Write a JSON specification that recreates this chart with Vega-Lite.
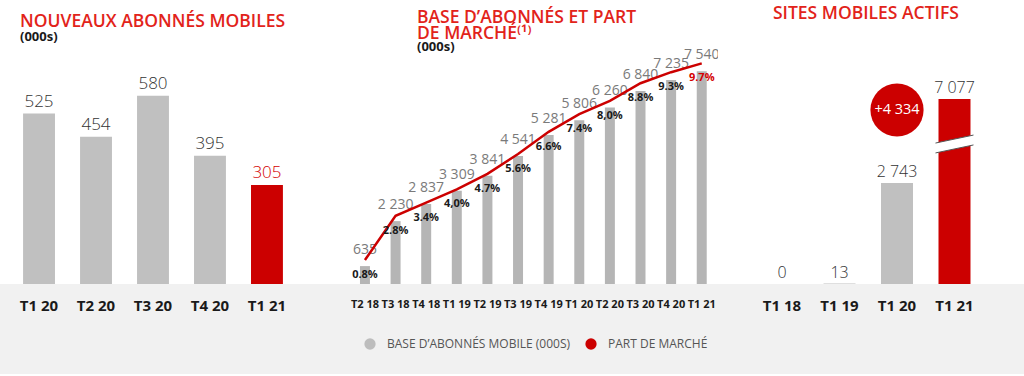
{
  "$schema": "https://vega.github.io/schema/vega-lite/v6.json",
  "background": "#f1f1f1",
  "padding": {"left": 0, "top": 0, "right": 0, "bottom": 24},
  "spacing": 0,
  "bounds": "flush",
  "config": {
    "font": "Open Sans",
    "view": {"fill": "white", "stroke": null},
    "axis": {"domain": false, "ticks": false, "grid": false, "title": null, "labelAngle": 0, "labelFont": "Open Sans", "labelFontWeight": "bold", "labelColor": "#1a1a1a", "labelOverlap": false, "labelBound": false},
    "title": {"anchor": "start", "frame": "group", "font": "Open Sans", "fontWeight": 600, "color": "#e2231a", "fontSize": 17.5, "subtitleFont": "Open Sans", "subtitleFontWeight": "bold", "subtitleColor": "#1a1a1a", "subtitleFontSize": 13, "subtitlePadding": 1}
  },
  "datasets": {
    "left": [
      {"q": "T1 20", "v": 525},
      {"q": "T2 20", "v": 454},
      {"q": "T3 20", "v": 580},
      {"q": "T4 20", "v": 395},
      {"q": "T1 21", "v": 305}
    ],
    "mid": [
      {"q": "T2 18", "base": 635, "base_label": "635", "share": 0.8, "share_label": "0.8%"},
      {"q": "T3 18", "base": 2230, "base_label": "2 230", "share": 2.8, "share_label": "2.8%"},
      {"q": "T4 18", "base": 2837, "base_label": "2 837", "share": 3.4, "share_label": "3.4%"},
      {"q": "T1 19", "base": 3309, "base_label": "3 309", "share": 4.0, "share_label": "4,0%"},
      {"q": "T2 19", "base": 3841, "base_label": "3 841", "share": 4.7, "share_label": "4.7%"},
      {"q": "T3 19", "base": 4541, "base_label": "4 541", "share": 5.6, "share_label": "5.6%"},
      {"q": "T4 19", "base": 5281, "base_label": "5 281", "share": 6.6, "share_label": "6.6%"},
      {"q": "T1 20", "base": 5806, "base_label": "5 806", "share": 7.4, "share_label": "7.4%"},
      {"q": "T2 20", "base": 6260, "base_label": "6 260", "share": 8.0, "share_label": "8,0%"},
      {"q": "T3 20", "base": 6840, "base_label": "6 840", "share": 8.8, "share_label": "8.8%"},
      {"q": "T4 20", "base": 7235, "base_label": "7 235", "share": 9.3, "share_label": "9.3%"},
      {"q": "T1 21", "base": 7540, "base_label": "7 540", "share": 9.7, "share_label": "9.7%"}
    ],
    "right": [
      {"q": "T1 18", "v": 0, "label": "0"},
      {"q": "T1 19", "v": 13, "label": "13"},
      {"q": "T1 20", "v": 2743, "label": "2 743"},
      {"q": "T1 21", "v": 7077, "label": "7 077"}
    ],
    "gain": [
      {"q": "T1 20", "text": "+4 334"}
    ]
  },
  "hconcat": [
    {
      "width": 310,
      "height": 284,
      "title": {"text": "NOUVEAUX ABONNÉS MOBILES", "subtitle": "(000s)", "offset": -44, "dx": 20},
      "data": {"name": "left"},
      "encoding": {
        "x": {"field": "q", "type": "nominal", "sort": null,
              "scale": {"domain": ["T1 20", "T2 20", "T3 20", "T4 20", "T1 21"], "paddingInner": 0.44, "paddingOuter": 0.44, "align": 0.46},
              "axis": {"labelFontSize": 15, "labelPadding": 14}},
        "y": {"field": "v", "type": "quantitative", "scale": {"domain": [0, 875], "nice": false}, "axis": null}
      },
      "layer": [
        {"mark": {"type": "bar"},
         "encoding": {"color": {"condition": {"test": "datum.q === 'T1 21'", "value": "#cc0000"}, "value": "#c0c0c0"}}},
        {"mark": {"type": "text", "baseline": "alphabetic", "dy": -7, "fontSize": 17, "fontWeight": 300},
         "encoding": {"text": {"field": "v"},
                      "color": {"condition": {"test": "datum.q === 'T1 21'", "value": "#d40000"}, "value": "#333333"}}}
      ]
    },
    {
      "width": 408,
      "height": 284,
      "title": {"text": ["BASE D’ABONNÉS ET PART", "DE MARCHÉ⁽¹⁾"], "subtitle": "(000s)", "offset": -54, "dx": 107, "lineHeight": 15.5, "subtitlePadding": -1},
      "data": {"name": "mid"},
      "encoding": {
        "x": {"field": "q", "type": "nominal", "sort": null,
              "scale": {"paddingInner": 0.674, "paddingOuter": 1, "align": 0.816},
              "axis": {"labelFontSize": 11, "labelPadding": 14}}
      },
      "layer": [
        {"mark": {"type": "bar", "color": "#b5b5b5"},
         "encoding": {"y": {"field": "base", "type": "quantitative", "scale": {"domain": [0, 10071], "nice": false, "zero": true}, "axis": null}}},
        {"mark": {"type": "text", "baseline": "alphabetic", "dy": -12, "fontSize": 14, "color": "#7a7a7a"},
         "encoding": {"y": {"field": "base", "type": "quantitative", "scale": {"domain": [0, 10071], "nice": false, "zero": true}, "axis": null},
                      "text": {"field": "base_label"}}},
        {"mark": {"type": "line", "color": "#cc0000", "strokeWidth": 2.5},
         "encoding": {"y": {"field": "share", "type": "quantitative", "scale": {"domain": [-0.285, 12.566], "nice": false, "zero": false}, "axis": null}}},
        {"mark": {"type": "text", "baseline": "middle", "dy": 15, "fontSize": 11, "fontWeight": "bold"},
         "encoding": {"y": {"field": "share", "type": "quantitative", "scale": {"domain": [-0.285, 12.566], "nice": false, "zero": false}, "axis": null},
                      "text": {"field": "share_label"},
                      "color": {"condition": {"test": "datum.q === 'T1 21'", "value": "#d40000"}, "value": "#1a1a1a"}}},
        {"mark": {"type": "point", "filled": true, "size": 0, "strokeWidth": 0, "opacity": 1},
         "encoding": {"y": {"field": "base", "type": "quantitative", "scale": {"domain": [0, 10071], "nice": false, "zero": true}, "axis": null},
                      "color": {"datum": "BASE D’ABONNÉS MOBILE (000S)", "type": "nominal",
                                "scale": {"domain": ["BASE D’ABONNÉS MOBILE (000S)", "PART DE MARCHÉ"], "range": ["#bdbdbd", "#cc0000"]},
                                "legend": {"orient": "none", "legendX": 364, "legendY": 338, "direction": "horizontal", "title": null, "symbolType": "circle", "symbolSize": 127, "symbolStrokeWidth": 0, "symbolOpacity": 1, "labelFont": "Open Sans", "labelFontSize": 12, "labelColor": "#555555", "labelOffset": 11, "labelLimit": 400, "columnPadding": 14}}}},
        {"mark": {"type": "point", "filled": true, "size": 0, "strokeWidth": 0, "opacity": 1},
         "encoding": {"y": {"field": "share", "type": "quantitative", "scale": {"domain": [-0.285, 12.566], "nice": false, "zero": false}, "axis": null},
                      "color": {"datum": "PART DE MARCHÉ", "type": "nominal"}}}
      ],
      "resolve": {"scale": {"y": "independent"}}
    },
    {
      "width": 306,
      "height": 284,
      "title": {"text": "SITES MOBILES ACTIFS", "offset": -22, "dx": 55},
      "encoding": {
        "x": {"field": "q", "type": "nominal", "sort": null,
              "scale": {"domain": ["T1 18", "T1 19", "T1 20", "T1 21"], "paddingInner": 0.4435, "paddingOuter": 0.883, "align": 0.473},
              "axis": {"labelFontSize": 15, "labelPadding": 14}}
      },
      "layer": [
        {"data": {"name": "right"},
         "mark": {"type": "bar"},
         "encoding": {"y": {"field": "v", "type": "quantitative", "scale": {"domain": [0, 5027], "range": [284, 99], "clamp": true, "nice": false}, "axis": null},
                      "color": {"condition": {"test": "datum.q === 'T1 21'", "value": "#cc0000"}, "value": "#c0c0c0"}}},
        {"data": {"name": "right"},
         "mark": {"type": "text", "baseline": "alphabetic", "dy": -6, "fontSize": 16, "fontWeight": 300, "color": "#333333"},
         "encoding": {"y": {"field": "v", "type": "quantitative"}, "text": {"field": "label"}}},
        {"data": {"name": "gain"},
         "mark": {"type": "point", "filled": true, "size": 2827, "color": "#cc0000", "opacity": 1, "strokeWidth": 0},
         "encoding": {"y": {"datum": 4728, "type": "quantitative"}}},
        {"data": {"name": "gain"},
         "mark": {"type": "text", "baseline": "middle", "fontSize": 14.5, "color": "white"},
         "encoding": {"y": {"datum": 4728, "type": "quantitative"}, "text": {"field": "text"}}},
        {"data": {"name": "right"},
         "transform": [{"filter": "datum.q === 'T1 21'"}],
         "mark": {"type": "point", "shape": "M-1,-0.05L1,-0.47L1,0.05L-1,0.47Z", "size": 1444, "filled": true, "color": "white", "opacity": 1, "strokeWidth": 0},
         "encoding": {"y": {"datum": 3804, "type": "quantitative"}}},
        {"data": {"name": "right"},
         "transform": [{"filter": "datum.q === 'T1 21'"}],
         "mark": {"type": "point", "shape": "M-1,-0.05L1,-0.47M-1,0.47L1,0.05", "size": 1444, "filled": false, "color": "#555555", "opacity": 1, "strokeWidth": 1},
         "encoding": {"y": {"datum": 3804, "type": "quantitative"}}}
      ]
    }
  ]
}
